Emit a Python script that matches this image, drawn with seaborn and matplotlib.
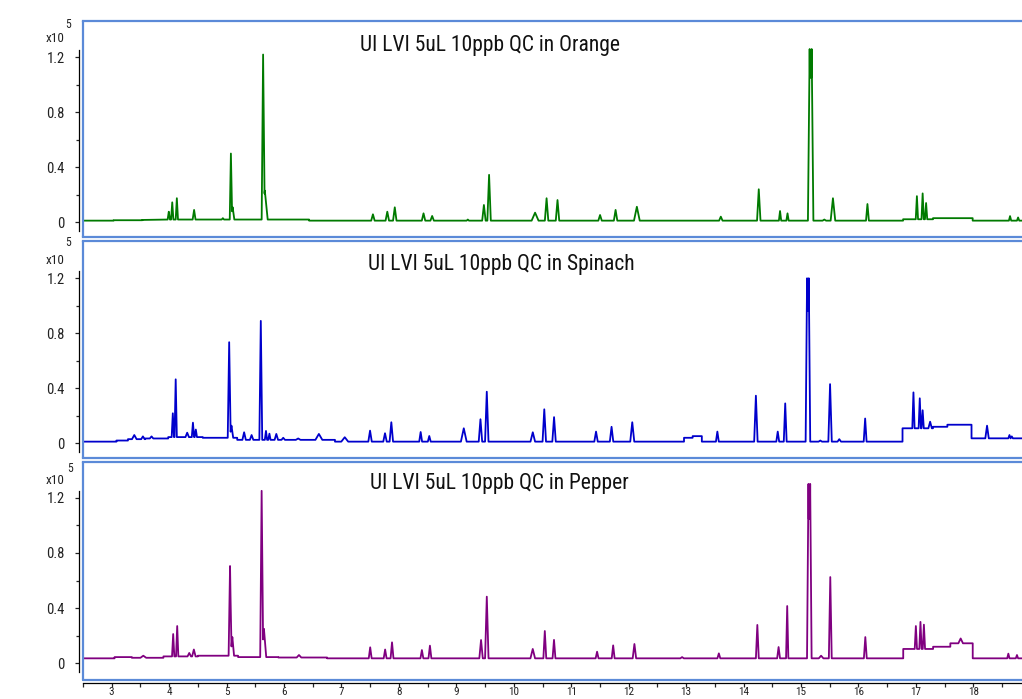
import numpy as np
import pandas as pd
import matplotlib
matplotlib.use("Agg")
import matplotlib.pyplot as plt
import seaborn as sns
from matplotlib import font_manager as fm

# ---------------- data ----------------
titles = ["UI LVI 5uL 10ppb QC in Orange",
          "UI LVI 5uL 10ppb QC in Spinach",
          "UI LVI 5uL 10ppb QC in Pepper"]
x_ticks = [3, 4, 5, 6, 7, 8, 9, 10, 11, 12, 13, 14, 15, 16, 17, 18]
y_ticks = [0, 0.4, 0.8, 1.2]
y_tick_labels = ["0", "0.4", "0.8", "1.2"]

# Orange: baseline steps (start rt, level) and peaks (rt, apex, half width)
orange_base_x = [2.5, 3.05, 3.55, 4.0, 6.45, 16.78, 17.3, 17.99]
orange_base_y = [0.012, 0.015, 0.017, 0.02, 0.012, 0.022, 0.03, 0.012]
orange_rt = [4.01, 4.07, 4.15, 4.45, 4.95, 5.09, 5.12, 5.65, 5.68, 7.56, 7.81, 7.94,
             8.44, 8.59, 9.21, 9.49, 9.58, 10.38, 10.58, 10.77, 11.51, 11.78, 12.15,
             13.61, 14.27, 14.64, 14.77, 15.155, 15.19, 15.41, 15.56, 16.16, 17.02,
             17.12, 17.18, 18.64, 18.78]
orange_h = [0.077, 0.145, 0.175, 0.09, 0.03, 0.50, 0.11, 1.22, 0.23, 0.058, 0.077, 0.109,
            0.065, 0.046, 0.02, 0.126, 0.345, 0.07, 0.175, 0.162, 0.053, 0.09, 0.113,
            0.041, 0.24, 0.082, 0.065, 1.26, 1.26, 0.02, 0.175, 0.133, 0.19,
            0.21, 0.14, 0.045, 0.035]
orange_w = [0.02, 0.02, 0.02, 0.025, 0.02, 0.02, 0.03, 0.025, 0.05, 0.03, 0.03, 0.03,
            0.03, 0.03, 0.02, 0.03, 0.03, 0.06, 0.03, 0.03, 0.03, 0.03, 0.05,
            0.03, 0.03, 0.02, 0.02, 0.03, 0.03, 0.03, 0.04, 0.025, 0.02,
            0.02, 0.02, 0.02, 0.02]

# Spinach
spinach_base_x = [2.5, 3.1, 3.3, 3.6, 4.0, 4.6, 5.2, 6.9, 12.97, 13.12, 13.28,
                  16.77, 17.3, 17.55, 17.97]
spinach_base_y = [0.012, 0.02, 0.03, 0.035, 0.045, 0.04, 0.025, 0.012, 0.04, 0.052, 0.012,
                  0.109, 0.12, 0.135, 0.036]
spinach_rt = [3.41, 3.56, 3.71, 4.08, 4.13, 4.33, 4.43, 4.48, 5.06, 5.10, 5.32, 5.45,
              5.61, 5.70, 5.76, 5.88, 6.0, 6.26, 6.62, 7.07, 7.51, 7.77, 7.88, 8.39,
              8.54, 9.14, 9.43, 9.54, 10.34, 10.54, 10.71, 11.44, 11.71, 12.07, 13.55,
              14.22, 14.60, 14.73, 15.11, 15.14, 15.34, 15.51, 15.67, 16.12, 16.96,
              17.07, 17.12, 17.25, 18.24, 18.63, 18.67]
spinach_h = [0.06, 0.05, 0.05, 0.218, 0.465, 0.077, 0.15, 0.10, 0.735, 0.128, 0.08, 0.06,
             0.89, 0.09, 0.07, 0.068, 0.04, 0.035, 0.068, 0.044, 0.092, 0.073, 0.153, 0.082,
             0.053, 0.109, 0.175, 0.375, 0.08, 0.247, 0.19, 0.085, 0.12, 0.153, 0.085,
             0.346, 0.085, 0.29, 1.2, 1.2, 0.02, 0.43, 0.03, 0.18, 0.37,
             0.327, 0.24, 0.157, 0.128, 0.06, 0.05]
spinach_w = [0.04, 0.03, 0.03, 0.02, 0.02, 0.03, 0.02, 0.02, 0.025, 0.03, 0.03, 0.03,
             0.025, 0.02, 0.02, 0.03, 0.03, 0.04, 0.06, 0.06, 0.03, 0.03, 0.03, 0.025,
             0.025, 0.05, 0.03, 0.03, 0.04, 0.03, 0.03, 0.03, 0.03, 0.035, 0.025,
             0.03, 0.025, 0.025, 0.025, 0.025, 0.03, 0.03, 0.03, 0.025, 0.02,
             0.02, 0.02, 0.03, 0.03, 0.02, 0.02]

# Pepper
pepper_base_x = [2.5, 3.05, 3.35, 3.9, 4.5, 5.2, 5.9, 6.75, 16.78, 17.3, 17.6, 17.99]
pepper_base_y = [0.036, 0.045, 0.04, 0.05, 0.055, 0.045, 0.042, 0.036, 0.104, 0.12, 0.145, 0.036]
pepper_rt = [3.55, 4.07, 4.14, 4.35, 4.43, 5.06, 5.10, 5.61, 5.65, 6.26, 7.50, 7.76,
             7.88, 8.40, 8.54, 9.43, 9.53, 10.33, 10.54, 10.70, 11.45, 11.73, 12.10,
             12.93, 13.57, 14.24, 14.61, 14.76, 15.13, 15.16, 15.35, 15.51, 16.12,
             17.0, 17.08, 17.14, 17.78, 18.61, 18.76]
pepper_h = [0.055, 0.212, 0.27, 0.075, 0.10, 0.705, 0.19, 1.25, 0.25, 0.06, 0.116, 0.10,
            0.152, 0.096, 0.128, 0.169, 0.483, 0.104, 0.234, 0.17, 0.084, 0.13, 0.14,
            0.045, 0.072, 0.278, 0.118, 0.415, 1.30, 1.30, 0.055, 0.625, 0.19,
            0.27, 0.30, 0.28, 0.18, 0.07, 0.06]
pepper_w = [0.05, 0.02, 0.02, 0.03, 0.03, 0.025, 0.03, 0.025, 0.04, 0.04, 0.025, 0.025,
            0.025, 0.025, 0.025, 0.03, 0.03, 0.04, 0.025, 0.025, 0.025, 0.025, 0.03,
            0.03, 0.025, 0.025, 0.025, 0.02, 0.025, 0.025, 0.04, 0.025, 0.025,
            0.02, 0.02, 0.02, 0.04, 0.02, 0.02]

samples = [
    (orange_base_x, orange_base_y, orange_rt, orange_h, orange_w),
    (spinach_base_x, spinach_base_y, spinach_rt, spinach_h, spinach_w),
    (pepper_base_x, pepper_base_y, pepper_rt, pepper_h, pepper_w),
]
colors = ["#007A00", "#0000CC", "#800080"]

# ---------------- style ----------------
sns.set_theme(style="ticks")
names = {f.name for f in fm.fontManager.ttflist}
fam = next((f for f in ["Liberation Sans Narrow", "Arial Narrow", "Roboto Condensed",
                        "Liberation Sans"] if f in names), "DejaVu Sans")
plt.rcParams["font.family"] = [fam, "DejaVu Sans"]
plt.rcParams["axes.linewidth"] = 1.0


def build_trace(bx, by, rt, h, w, x_end):
    bx = np.asarray(bx, float); by = np.asarray(by, float)
    rt = np.asarray(rt, float); h = np.asarray(h, float); w = np.asarray(w, float)

    def base(x):
        return by[np.clip(np.searchsorted(bx, x, side="right") - 1, 0, len(by) - 1)]

    xs = [bx[0], x_end]
    for k in range(1, len(bx)):
        xs += [bx[k] - 1e-4, bx[k]]
    for r, ww in zip(rt, w):
        xs += [r - ww, r, r + ww]
    xs = np.unique(np.array(xs))
    ys = base(xs).astype(float)
    pb = base(rt)
    for r, hh, ww, b in zip(rt, h, w, pb):
        m = np.abs(xs - r) <= ww + 1e-9
        tri = b + (hh - b) * (1 - np.abs(xs[m] - r) / ww)
        ys[m] = np.maximum(ys[m], tri)
    return pd.DataFrame({"rt": xs, "abund": ys})


W, H = 1022, 699
fig = plt.figure(figsize=(W / 100, H / 100), dpi=100)

# pixel geometry of panels: (top, bottom) and y range
panel_px = [(21, 237), (241, 458), (462, 680)]
ylims = [(-0.107, 1.464), (-0.107, 1.471), (-0.121, 1.459)]
xlim = (2.518, 18.90)
left_px, right_px = 83, 1025
frame_col = "#5B8AD8"

for i, ((top, bot), yl, smp, col, title) in enumerate(zip(panel_px, ylims, samples, colors, titles)):
    ax = fig.add_axes([left_px / W, 1 - bot / H, (right_px - left_px) / W, (bot - top) / H])
    df = build_trace(*smp, x_end=xlim[1])
    sns.lineplot(data=df, x="rt", y="abund", ax=ax, color=col, lw=1.3,
                 estimator=None, sort=False)
    ax.set_xlim(*xlim)
    ax.set_ylim(*yl)
    ax.set_xlabel("")
    ax.set_ylabel("")
    for s in ["top", "right", "bottom"]:
        ax.spines[s].set_color(frame_col)
        ax.spines[s].set_linewidth(1.6)
    ax.spines["left"].set_color("black")
    ax.spines["left"].set_linewidth(0.9)
    ax.spines["left"].set_position(("outward", 3))
    ax.spines["left"].set_bounds(-0.062, 1.25)
    ax.plot([0, 0], [0, 1], transform=ax.transAxes, color=frame_col, lw=1.6,
            clip_on=False)

    ax.set_yticks(y_ticks)
    ax.set_yticklabels(y_tick_labels)
    ax.set_yticks([0.2, 0.6, 1.0], minor=True)
    ax.tick_params(axis="y", which="major", left=True, length=3, width=0.9,
                   direction="out", pad=7, labelsize=10.5, colors="#222222")
    ax.tick_params(axis="y", which="minor", left=True, length=2, width=0.9,
                   direction="out")

    if i < 2:
        ax.tick_params(axis="x", which="both", bottom=False, labelbottom=False)
    else:
        ax.spines["bottom"].set_color("black")
        ax.spines["bottom"].set_linewidth(0.9)
        ax.spines["bottom"].set_position(("outward", 2))
        ax.plot([0, 1], [0, 0], transform=ax.transAxes, color=frame_col, lw=1.6,
                clip_on=False)
        ax.set_xticks(x_ticks)
        ax.set_xticklabels([str(t) for t in x_ticks])
        ax.set_xticks([t + 0.5 for t in x_ticks[:-1]] + [2.5, 18.5], minor=True)
        ax.tick_params(axis="x", which="major", bottom=True, length=3, width=0.9,
                       direction="out", pad=0, labelsize=8, colors="#222222")
        ax.tick_params(axis="x", which="minor", bottom=True, length=3, width=0.9,
                       direction="out")

    # title inside panel
    tx = [489.5, 501, 499][i]
    ty = [46, 264, 484][i]
    fig.text(tx / W, 1 - ty / H, title, ha="center", va="center", fontsize=15.5,
             color="#111111")

    # exponent label
    x10_y = [38, 260, 481][i]
    e_y = [24, 243, 468][i]
    e_x = [70.5, 70.5, 72.5][i]
    fig.text(65 / W, 1 - x10_y / H, "x10", ha="right", va="center", fontsize=9.5,
             color="#222222")
    fig.text(e_x / W, 1 - e_y / H, "5", ha="right", va="center", fontsize=8.5,
             color="#222222")

fig.savefig("out.png", dpi=100, facecolor="white")
